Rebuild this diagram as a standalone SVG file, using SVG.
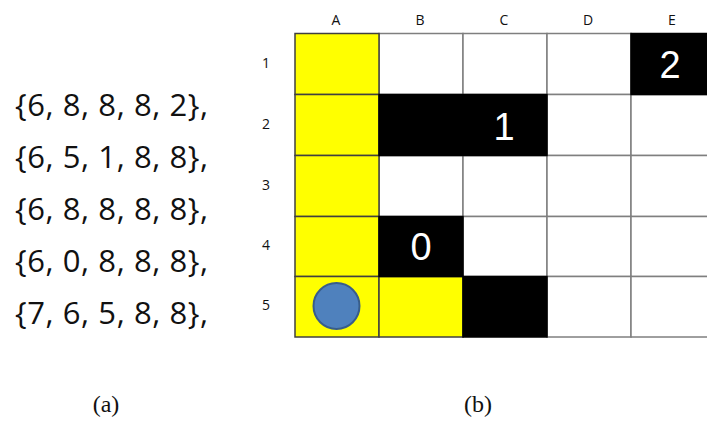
<svg xmlns="http://www.w3.org/2000/svg" width="707" height="424" viewBox="0 0 707 424">
<style>
.arr{font-family:"Open Sans","Liberation Sans",sans-serif;font-size:31px;fill:#111}
.hd{font-family:"Open Sans","Liberation Sans",sans-serif;font-size:14px;fill:#111;text-anchor:middle}
.num{font-family:"Liberation Sans",Arial,sans-serif;font-size:38px;fill:#fff;text-anchor:middle}
.cap{font-family:"Liberation Serif","DejaVu Serif",serif;font-size:24px;fill:#111;text-anchor:middle}
.w{fill:#fff;stroke:#7f7f7f;stroke-width:1.5}
.y{fill:#ffff00;stroke:#404040;stroke-width:1.5}
.b{fill:#000;stroke:#000;stroke-width:1.5}
</style>
<rect width="707" height="424" fill="#fff"/>
<g id="array">
<text class="arr" x="15" y="116" textLength="193" lengthAdjust="spacing">{6, 8, 8, 8, 2},</text>
<text class="arr" x="15" y="168" textLength="193" lengthAdjust="spacing">{6, 5, 1, 8, 8},</text>
<text class="arr" x="15" y="220" textLength="193" lengthAdjust="spacing">{6, 8, 8, 8, 8},</text>
<text class="arr" x="15" y="272" textLength="193" lengthAdjust="spacing">{6, 0, 8, 8, 8},</text>
<text class="arr" x="15" y="324" textLength="193" lengthAdjust="spacing">{7, 6, 5, 8, 8},</text>
</g>
<g id="headers">
<text class="hd" x="336" y="25">A</text>
<text class="hd" x="420" y="25">B</text>
<text class="hd" x="504" y="25">C</text>
<text class="hd" x="588" y="25">D</text>
<text class="hd" x="672" y="25">E</text>
<text class="hd" x="266" y="68">1</text>
<text class="hd" x="266" y="129">2</text>
<text class="hd" x="266" y="190">3</text>
<text class="hd" x="266" y="250">4</text>
<text class="hd" x="266" y="310">5</text>
</g>
<g id="grid">
<rect class="w" x="379" y="33.5" width="84" height="61"/>
<rect class="w" x="463" y="33.5" width="84" height="61"/>
<rect class="w" x="547" y="33.5" width="84" height="61"/>
<rect class="w" x="547" y="94.5" width="84" height="61"/>
<rect class="w" x="631" y="94.5" width="84" height="61"/>
<rect class="w" x="379" y="155.5" width="84" height="61"/>
<rect class="w" x="463" y="155.5" width="84" height="61"/>
<rect class="w" x="547" y="155.5" width="84" height="61"/>
<rect class="w" x="631" y="155.5" width="84" height="61"/>
<rect class="w" x="463" y="216.5" width="84" height="60"/>
<rect class="w" x="547" y="216.5" width="84" height="60"/>
<rect class="w" x="631" y="216.5" width="84" height="60"/>
<rect class="w" x="547" y="276.5" width="84" height="60.5"/>
<rect class="w" x="631" y="276.5" width="84" height="60.5"/>
<rect class="y" x="295" y="33.5" width="84" height="61"/>
<rect class="y" x="295" y="94.5" width="84" height="61"/>
<rect class="y" x="295" y="155.5" width="84" height="61"/>
<rect class="y" x="295" y="216.5" width="84" height="60"/>
<rect class="y" x="295" y="276.5" width="84" height="60.5"/>
<rect class="y" x="379" y="276.5" width="84" height="60.5"/>
<rect class="b" x="631" y="33.5" width="84" height="61"/>
<rect class="b" x="379" y="94.5" width="168" height="61"/>
<rect class="b" x="379" y="216.5" width="84" height="60"/>
<rect class="b" x="463" y="276.5" width="84" height="60.5"/>
</g>
<g id="labels">
<text class="num" x="670" y="78">2</text>
<text class="num" x="504" y="140">1</text>
<text class="num" x="421" y="260">0</text>
</g>
<g id="agent">
<circle cx="336.5" cy="306" r="23" fill="#4f81bd" stroke="#385d8a" stroke-width="2"/>
</g>
<g id="captions">
<text class="cap" x="106" y="412">(a)</text>
<text class="cap" x="478" y="412">(b)</text>
</g>
</svg>
